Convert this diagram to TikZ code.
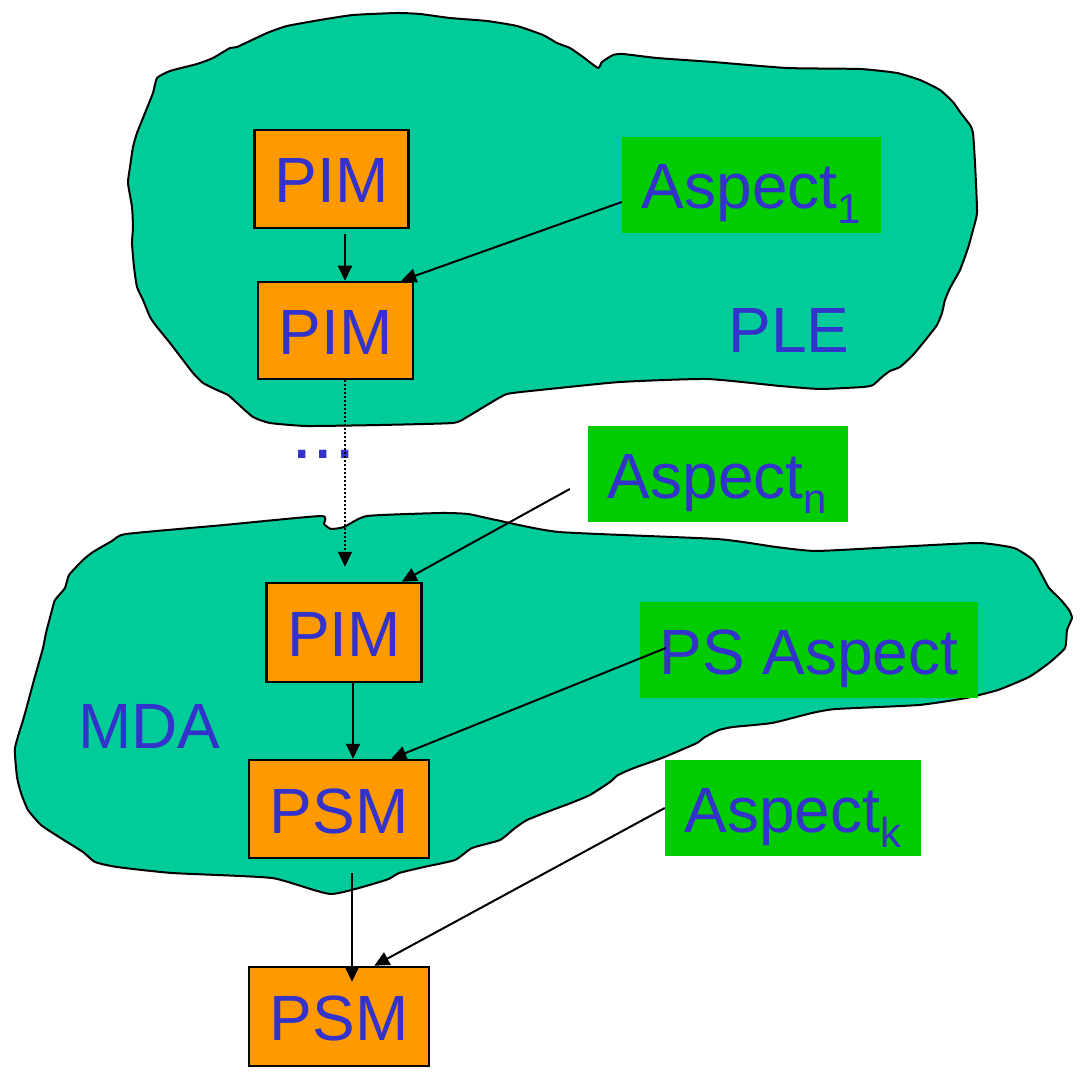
\documentclass[tikz,border=0pt]{standalone}
\usepackage{fontspec}
\setmainfont{Liberation Sans}
\usetikzlibrary{arrows.meta}
\definecolor{blobgreen}{HTML}{00CC99}
\definecolor{boxorange}{HTML}{FF9900}
\definecolor{aspgreen}{HTML}{00CC00}
\definecolor{txtblue}{HTML}{3333CC}
\newcommand{\bigtxt}{\fontsize{64}{70}\selectfont}
\newcommand{\subtxt}[1]{\raisebox{-15pt}{\fontsize{42}{42}\selectfont #1}}
\begin{document}
\begin{tikzpicture}[x=1pt,y=-1pt,
  blob/.style={fill=blobgreen,draw=black,line width=2pt,line join=round},
  modelbox/.style={fill=boxorange,draw=black,line width=2.5pt,inner sep=0pt,
    text=txtblue,font=\bigtxt,text height=48pt,text depth=0pt},
  aspectbox/.style={fill=aspgreen,inner sep=0pt,
    text=txtblue,font=\bigtxt,text height=48pt,text depth=0pt},
  regionlabel/.style={inner sep=0pt,text=txtblue,font=\bigtxt},
  conn/.style={line width=2pt,-{Triangle[length=15pt,width=14pt]}},
  dotconn/.style={line width=1.5pt,dash pattern=on 2pt off 2pt,-{Triangle[length=15pt,width=14pt]}}
]
\useasboundingbox (0,0) rectangle (1080,1075);
\fill[white] (0,0) rectangle (1080,1075);

% PLE region
\draw[blob] plot[smooth cycle,tension=0.3] coordinates {
(157,78) (170,71) (197,64) (213,58) (230,48) (237,47) (267,33) (287,26) (320,20)
(353,15) (397,13) (420,14) (450,18) (487,21) (517,26) (543,35) (557,43) (570,48)
(583,57) (598,68) (602,62) (613,55) (623,54) (657,58) (713,62) (787,68) (860,69)
(897,73) (920,80) (940,90) (953,102) (960,112) (970,125) (973,133) (975,163)
(977,212) (973,230) (968,248) (960,270) (950,288) (945,300) (942,313) (937,325)
(927,338) (913,355) (900,367) (890,371) (882,377) (873,385) (863,387) (820,389)
(780,386) (707,379) (620,382) (540,390) (507,394) (487,405) (467,417) (453,423)
(380,425) (307,426) (270,423) (253,417) (237,403) (228,395) (217,390) (203,383) (193,373)
(183,360) (170,343) (157,327) (150,317) (143,300) (137,287) (134,267) (132,243)
(133,227) (132,207) (128,183) (130,167) (133,147) (137,133) (145,113) (153,93)};

% MDA region
\draw[blob] plot[smooth cycle,tension=0.3] coordinates {
(126,534) (224,525) (321,516) (324,524) (331,529) (344,527) (367,516) (441,513) (468,514)
(496,520) (559,532) (717,539) (776,547) (816,551) (895,547) (978,543) (1014,548)
(1033,560) (1043,577) (1049,588) (1061,600) (1069,610) (1072,618) (1067,630)
(1065,648) (1049,663) (1029,677) (998,690) (966,698) (919,705) (836,709) (812,713)
(772,723) (733,727) (719,730) (705,737) (697,743) (681,750) (662,758) (634,768)
(618,775) (610,782) (590,795) (571,803) (547,812) (527,820) (515,828) (500,840)
(472,848) (455,860) (424,867) (399,873) (386,880) (331,894) (272,878) (172,873)
(117,867) (95,862) (83,852) (59,837) (41,825) (28,810) (21,793) (17,777) (15,748)
(24,717) (34,680) (43,648) (46,633) (52,610) (55,600) (65,588) (69,575) (83,560)
(93,552) (112,541)};

% region labels
\node[regionlabel] (ple) at (789,330.5) {PLE};
\node[regionlabel] (mda) at (149.5,726) {MDA};
\node[inner sep=0pt,text=txtblue,font=\fontsize{77}{80}\selectfont,anchor=base] (dots) at (323.5,458) {...};

% model boxes
\node[modelbox,minimum width=154pt,minimum height=98pt] (pim1) at (331.5,179) {PIM};
\node[modelbox,minimum width=155pt,minimum height=97pt] (pim2) at (335.5,330.5) {PIM};
\node[modelbox,minimum width=155pt,minimum height=99pt] (pim3) at (344,632.5) {PIM};
\node[modelbox,minimum width=180pt,minimum height=98pt] (psm1) at (339,809) {PSM};
\node[modelbox,minimum width=180pt,minimum height=99pt] (psm2) at (339,1016.5) {PSM};

% aspect boxes
\node[aspectbox,minimum width=259pt,minimum height=96pt] (asp1) at (751.5,185) {Aspect\subtxt{1}};
\node[aspectbox,minimum width=260pt,minimum height=96pt] (aspn) at (717.5,474) {Aspect\subtxt{n}};
\node[aspectbox,minimum width=338pt,minimum height=96pt] (psa) at (809,650) {PS Aspect};
\node[aspectbox,minimum width=256pt,minimum height=96pt] (aspk) at (793,808) {Aspect\subtxt{k}};

% connectors
\draw[conn,shorten <=5pt] ([xshift=13.5pt]pim1.south) -- ([xshift=9.5pt]pim2.north);
\draw[conn] ([yshift=-17pt]asp1.west) -- ([xshift=-13pt]pim2.north east);
\draw[dotconn,shorten >=15pt] ([xshift=9.5pt]pim2.south) -- ([xshift=1pt]pim3.north);
\draw[conn] ([xshift=-17.5pt,yshift=-15pt]aspn.west) -- ([xshift=-21pt]pim3.north east);
\draw[conn] ([xshift=9pt]pim3.south) -- ([xshift=14pt]psm1.north);
\draw[conn] ([xshift=26pt,yshift=2pt]psa.west) -- ([xshift=-39pt]psm1.north east);
\draw[conn,shorten <=14pt,shorten >=-16pt] ([xshift=13pt]psm1.south) -- ([xshift=13pt]psm2.north);
\draw[conn] (aspk.west) -- ([xshift=-56pt]psm2.north east);
\end{tikzpicture}
\end{document}
